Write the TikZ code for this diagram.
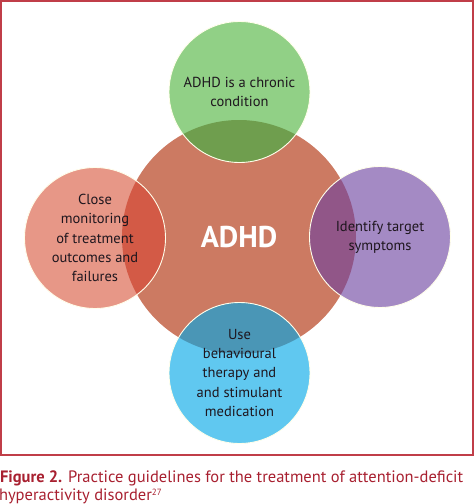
\documentclass[tikz,border=0pt]{standalone}
\usepackage{fontspec}
\setmainfont{PT Sans}
\usepackage{tikz}
\usetikzlibrary{positioning}

\definecolor{hubfill}{RGB}{204,122,98}
\definecolor{chronicfill}{RGB}{145,208,134}
\definecolor{chronicdark}{RGB}{111,158,78}
\definecolor{monitorfill}{RGB}{231,151,135}
\definecolor{monitordark}{RGB}{211,90,70}
\definecolor{symptomfill}{RGB}{164,138,196}
\definecolor{symptomdark}{RGB}{145,86,136}
\definecolor{therapyfill}{RGB}{96,200,240}
\definecolor{therapydark}{RGB}{74,150,182}
\definecolor{inktext}{RGB}{30,22,30}
\definecolor{framered}{RGB}{192,62,72}
\definecolor{captionred}{RGB}{168,32,48}

\begin{document}
\begin{tikzpicture}[
    x=1pt, y=-1pt,
    every node/.style={inner sep=0pt, outer sep=0pt},
    disc/.style={circle, minimum size=#1, draw=none},
    rim/.style={draw=white!92!yellow, line width=0.9pt},
    label/.style={align=center, text=inktext, font=\fontsize{14.5}{19.3}\selectfont},
    caption/.style={anchor=base west, text=captionred, font=\fontsize{16.5}{18}\selectfont}
]
\useasboundingbox (0,0) rectangle (474,504);
\draw[framered, line width=2pt] (1,1) rectangle (472.5,455);

% circles
\node[disc=234pt, fill=hubfill] (hub) at (239,237) {};
\node[disc=141pt, fill=chronicfill] (chronic) at (239.5,92) {};
\node[disc=141pt, fill=monitorfill] (monitor) at (95,238) {};
\node[disc=141pt, fill=symptomfill] (symptoms) at (380,237) {};
\node[disc=141pt, fill=therapyfill] (therapy) at (239.5,373) {};

% overlaps with the hub
\begin{scope}
    \clip (hub.center) circle[radius=117pt];
    \fill[chronicdark] (chronic.center) circle[radius=70.5pt];
    \fill[monitordark] (monitor.center) circle[radius=70.5pt];
    \fill[symptomdark] (symptoms.center) circle[radius=70.5pt];
    \fill[therapydark] (therapy.center) circle[radius=70.5pt];
\end{scope}
\foreach \n in {chronic, monitor, symptoms, therapy}
    \draw[rim] (\n.center) circle[radius=70.5pt];

% texts
\node[text=white, font=\fontsize{30}{34}\selectfont\bfseries] (hubtext) at (hub.center) {ADHD};
\node[label] (chronictext) at (chronic.center) {ADHD is a chronic\\condition};
\node[label] (monitortext) at (monitor.center) {Close\\monitoring\\of treatment\\outcomes and\\failures};
\node[label] (symptomtext) at (symptoms.center) {Identify target\\symptoms};
\node[label] (therapytext) at (therapy.center) {Use\\behavioural\\therapy and\\and stimulant\\medication};

% caption
\node[caption] (caption1) at (0,482) {\textbf{Figure 2.} Practice guidelines for the treatment of attention-deficit};
\node[caption] (caption2) at (-1,500) {hyperactivity disorder\raisebox{5pt}{\fontsize{9}{9}\selectfont 27}};
\end{tikzpicture}
\end{document}
